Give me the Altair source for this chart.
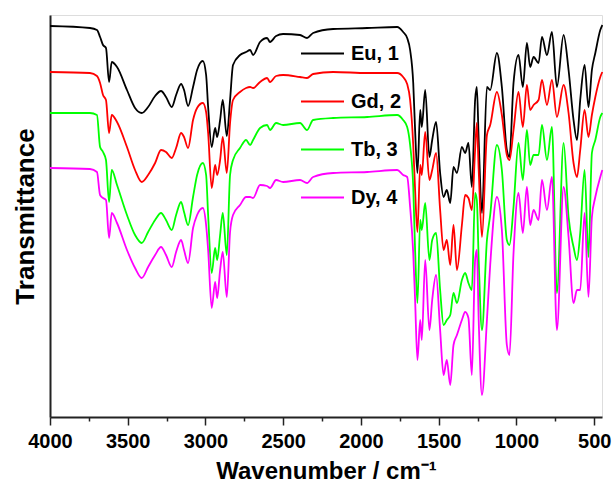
import altair as alt
import pandas as pd

wavenumber = [4000, 3743, 3698, 3678, 3659, 3640, 3620, 3603, 3569, 3505,
              3453, 3410, 3369, 3324, 3286, 3254, 3217, 3189, 3157, 3138,
              3112, 3080, 3054, 3017, 2996, 2983, 2960, 2938, 2925, 2906,
              2889, 2863, 2842, 2823, 2778, 2739, 2713, 2694, 2649, 2604,
              2585, 2546, 2501, 2392, 2347, 2308, 2179, 1960, 1767, 1729,
              1703, 1684, 1664, 1652, 1637, 1619, 1609, 1587, 1560, 1542,
              1517, 1491, 1469, 1448, 1426, 1405, 1383, 1351, 1330, 1309,
              1287, 1266, 1255, 1243, 1222, 1190, 1169, 1126, 1094, 1062,
              1045, 1019, 987, 959, 933, 912, 890, 858, 836, 804,
              772, 740, 697, 665, 633, 611, 590, 562, 537, 515,
              493, 461, 448]

eu = [391, 389, 387, 380, 372, 369, 335, 355, 350, 327,
      309, 304, 310, 321, 326, 320, 310, 322, 333, 327,
      311, 330, 347, 356, 342, 310, 270, 289, 280, 297,
      317, 281, 317, 352, 362, 365, 367, 362, 375, 379,
      375, 381, 383, 382, 379, 384, 388, 389, 390, 385,
      379, 367, 334, 287, 244, 307, 290, 327, 260, 277,
      295, 244, 220, 227, 214, 250, 244, 270, 264, 274,
      230, 317, 330, 277, 204, 330, 327, 364, 330, 267,
      260, 334, 362, 330, 374, 350, 360, 354, 380, 362,
      385, 330, 382, 347, 297, 277, 317, 352, 310, 347,
      364, 387, 392]

gd = [345, 344, 341, 334, 322, 317, 284, 302, 295, 270,
      247, 235, 242, 254, 267, 265, 259, 269, 284, 280,
      269, 297, 309, 314, 305, 284, 229, 252, 242, 257,
      280, 244, 294, 317, 325, 329, 330, 329, 335, 339,
      335, 341, 342, 340, 339, 343, 345, 344, 344, 340,
      333, 317, 272, 227, 185, 252, 242, 285, 237, 247,
      264, 207, 167, 177, 152, 192, 147, 192, 222, 219,
      207, 267, 294, 247, 180, 282, 292, 325, 302, 262,
      257, 287, 325, 290, 332, 307, 312, 317, 337, 312,
      337, 300, 332, 304, 254, 240, 267, 307, 280, 302,
      320, 340, 345]

tb = [304, 304, 302, 270, 265, 257, 215, 247, 232, 202,
      182, 174, 185, 197, 204, 197, 187, 202, 215, 205,
      192, 220, 242, 254, 242, 202, 144, 169, 157, 182,
      204, 162, 242, 257, 269, 277, 272, 277, 289, 292,
      287, 294, 292, 294, 287, 297, 299, 300, 302, 297,
      290, 272, 230, 167, 114, 197, 187, 214, 157, 177,
      184, 127, 92, 97, 102, 124, 114, 137, 144, 134,
      127, 224, 217, 157, 87, 177, 202, 272, 247, 177,
      172, 210, 274, 237, 287, 252, 262, 262, 292, 257,
      290, 124, 274, 200, 170, 157, 184, 247, 160, 264,
      277, 300, 304]

dy = [249, 248, 245, 222, 219, 217, 179, 204, 194, 167,
      149, 139, 150, 162, 170, 162, 150, 165, 177, 167,
      154, 189, 202, 209, 192, 167, 109, 135, 119, 147,
      165, 120, 185, 202, 212, 220, 220, 219, 232, 231,
      229, 237, 235, 237, 234, 240, 244, 245, 247, 242,
      240, 210, 164, 117, 57, 97, 77, 157, 87, 117,
      142, 87, 42, 57, 32, 72, 82, 97, 105, 99,
      42, 157, 167, 97, 22, 97, 152, 220, 187, 72,
      62, 164, 224, 184, 230, 192, 207, 197, 237, 207,
      240, 87, 230, 180, 114, 127, 127, 204, 120, 200,
      220, 240, 247]

series_names = ["Eu, 1", "Gd, 2", "Tb, 3", "Dy, 4"]
series_colors = ["#000000", "#ff0000", "#00ff00", "#ff00ff"]
tick_values = [4000, 3750, 3500, 3250, 3000, 2750, 2500, 2250, 2000,
               1750, 1500, 1250, 1000, 750, 500]

rows = []
for name, vals in zip(series_names, [eu, gd, tb, dy]):
    for i, (w, t) in enumerate(zip(wavenumber, vals)):
        rows.append({"wn": w, "T": t, "series": name, "idx": i})
df = pd.DataFrame(rows)

FONT = "Liberation Sans"

chart = alt.Chart(df).mark_line(strokeWidth=1.8, interpolate="monotone").encode(
    x=alt.X("wn:Q",
            scale=alt.Scale(domain=[450, 4000], reverse=True, nice=False, zero=False),
            axis=alt.Axis(values=tick_values, grid=False,
                          labelExpr="datum.value % 500 === 0 ? datum.label : ''",
                          format="d",
                          tickSize={"condition": {"test": "datum.value % 500 === 0", "value": 8}, "value": 4},
                          tickWidth=1.5, tickColor="#222",
                          domainColor="#222", domainWidth=2,
                          labelFont=FONT, labelFontSize=20, labelFontWeight="bold",
                          labelColor="#000", labelPadding=6, labelFlush=False,
                          titleFont=FONT, titleFontSize=24, titleFontWeight="bold",
                          titleColor="#000", titlePadding=8),
            title="Wavenumber / cm\u207b\u00b9"),
    y=alt.Y("T:Q",
            scale=alt.Scale(domain=[0, 402], nice=False, zero=False),
            axis=alt.Axis(labels=False, ticks=False, grid=False,
                          domainColor="#222", domainWidth=2,
                          titleFont=FONT, titleFontSize=26, titleFontWeight="bold",
                          titleColor="#000", titlePadding=12),
            title="Transmittance"),
    color=alt.Color("series:N",
                    scale=alt.Scale(domain=series_names, range=series_colors),
                    legend=alt.Legend(orient="none", legendX=250, legendY=16,
                                      title=None, symbolType="stroke",
                                      symbolSize=1849, symbolStrokeWidth=2,
                                      labelFont=FONT, labelFontSize=20,
                                      labelFontWeight="bold", labelColor="#000",
                                      labelOffset=6, rowPadding=15)),
    order="idx:Q",
).properties(
    width=552, height=402,
    autosize=alt.AutoSizeParams(type="none"),
    padding={"left": 50, "top": 15, "right": 11, "bottom": 67},
).configure_view(
    stroke="#222", strokeWidth=2
).configure(background="white")

chart.save("out.html", embed_options={"renderer": "svg", "actions": False})
